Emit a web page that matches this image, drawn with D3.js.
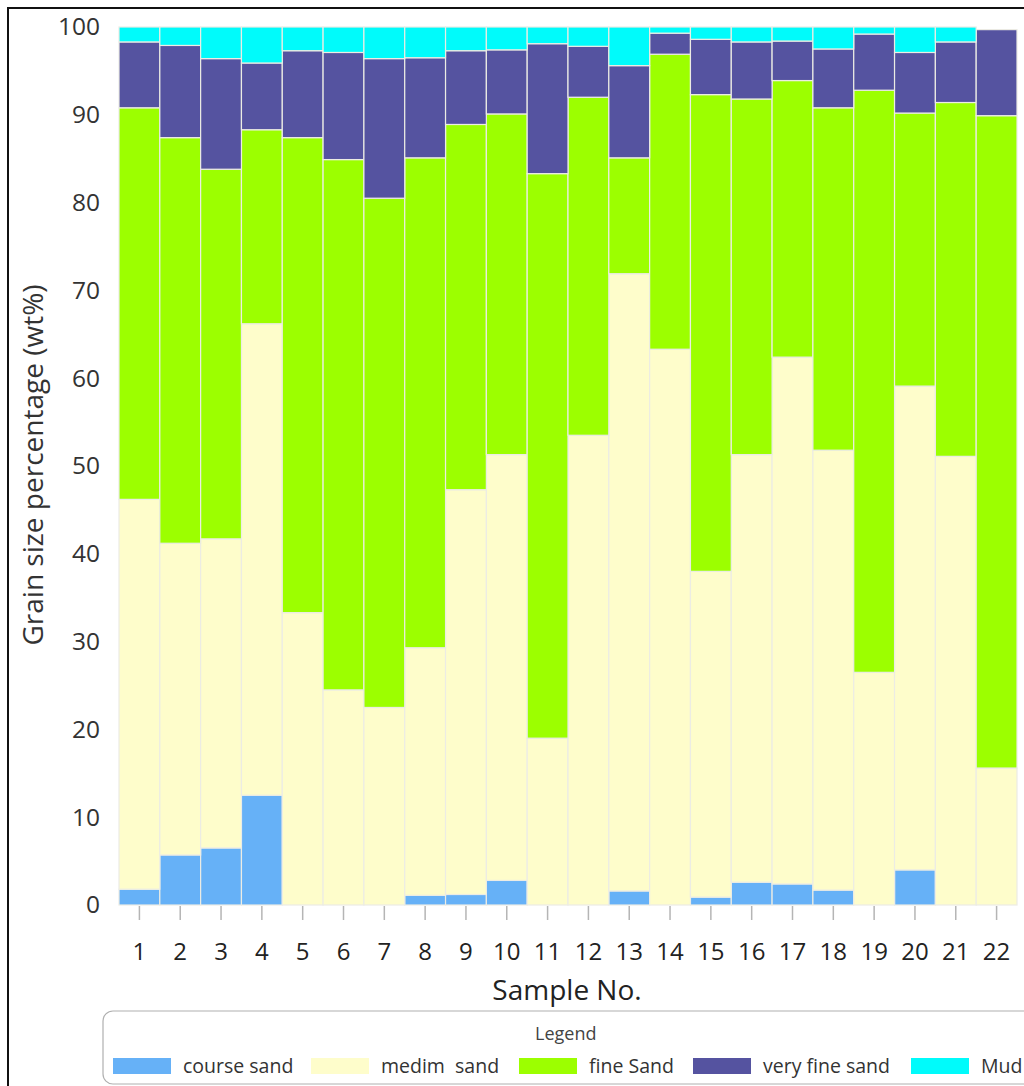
<!DOCTYPE html>
<html>
<head>
<meta charset="utf-8">
<script src="https://cdn.jsdelivr.net/npm/d3@7"></script>
<style>
  html, body { margin: 0; padding: 0; background: #fff; }
  svg { display: block; }
</style>
</head>
<body>
<svg id="chart" width="1024" height="1086"></svg>
<script>
// ---- data ----
const samples = ["1","2","3","4","5","6","7","8","9","10","11","12","13","14","15","16","17","18","19","20","21","22"];
const seriesNames = ["course sand", "medim  sand", "fine Sand", "very fine sand", "Mud"];
const courseSand   = [1.8, 5.7, 6.5, 12.5, 0, 0, 0, 1.1, 1.2, 2.8, 0, 0, 1.6, 0, 0.9, 2.6, 2.4, 1.7, 0, 4.0, 0, 0];
const mediumSand   = [44.4, 35.5, 35.2, 53.7, 33.3, 24.5, 22.5, 28.2, 46.1, 48.5, 19.0, 53.5, 70.3, 63.3, 37.1, 48.7, 60.0, 50.1, 26.5, 55.1, 51.1, 15.6];
const fineSand     = [44.6, 46.2, 42.1, 22.1, 54.1, 60.4, 58.0, 55.8, 41.6, 38.8, 64.3, 38.5, 13.2, 33.6, 54.3, 40.5, 31.5, 39.0, 66.3, 31.1, 40.3, 74.3];
const veryFineSand = [7.5, 10.5, 12.6, 7.6, 9.9, 12.2, 15.9, 11.4, 8.4, 7.3, 14.8, 5.8, 10.5, 2.4, 6.3, 6.5, 4.5, 6.7, 6.4, 6.9, 6.9, 9.8];
const mud          = [1.7, 2.1, 3.6, 4.1, 2.7, 2.9, 3.6, 3.5, 2.7, 2.6, 1.9, 2.2, 4.4, 0.7, 1.4, 1.7, 1.6, 2.5, 0.8, 2.9, 1.7, 0];
const yTicks = [0, 10, 20, 30, 40, 50, 60, 70, 80, 90, 100];
const colors = ["#66b1f7", "#fefdcb", "#9cff00", "#5553a0", "#00fbfb"];

// ---- layout ----
const svg = d3.select("#chart");
const FONT = "'Open Sans', 'Noto Sans', sans-serif";

// outer frame
svg.append("rect").attr("x", 8).attr("y", 8).attr("width", 1100).attr("height", 1100)
  .attr("fill", "none").attr("stroke", "#111").attr("stroke-width", 2);

const x = d3.scaleBand().domain(samples).range([119, 1017]).padding(0);
const y = d3.scaleLinear().domain([0, 100]).range([905, 27]);

const table = samples.map((s, i) => ({
  sample: s,
  "course sand": courseSand[i],
  "medim  sand": mediumSand[i],
  "fine Sand": fineSand[i],
  "very fine sand": veryFineSand[i],
  "Mud": mud[i]
}));
const stacked = d3.stack().keys(seriesNames)(table);

svg.append("g").selectAll("g").data(stacked).join("g")
  .attr("fill", (d, i) => colors[i])
  .selectAll("rect").data(d => d.filter(p => p[1] - p[0] > 0)).join("rect")
  .attr("x", d => x(d.data.sample))
  .attr("width", x.bandwidth())
  .attr("y", d => y(d[1]))
  .attr("height", d => y(d[0]) - y(d[1]))
  .attr("stroke", "#ecece4")
  .attr("stroke-width", 1.2);

// y axis labels
const yAxis = svg.append("g").attr("transform", "translate(119,0)")
  .call(d3.axisLeft(y).tickValues(yTicks).tickSize(0).tickPadding(19));
yAxis.select(".domain").remove();
yAxis.selectAll("text").attr("font-family", FONT).attr("font-size", 24.5).attr("fill", "#333");

// x axis
const xAxis = svg.append("g").attr("transform", "translate(0,906)")
  .call(d3.axisBottom(x).tickSize(14).tickPadding(23));
xAxis.select(".domain").remove();
xAxis.selectAll("line").attr("stroke", "#b5b5b5").attr("stroke-width", 1.5);
xAxis.selectAll("text").attr("font-family", FONT).attr("font-size", 24).attr("fill", "#222");

// axis titles
svg.append("text").attr("x", 567).attr("y", 1000).attr("text-anchor", "middle")
  .attr("font-family", FONT).attr("font-size", 28).attr("fill", "#222").text("Sample No.");
svg.append("text").attr("transform", "translate(43,465) rotate(-90)").attr("text-anchor", "middle")
  .attr("font-family", FONT).attr("font-size", 28).attr("fill", "#333").text("Grain size percentage (wt%)");

// legend
svg.append("rect").attr("x", 103).attr("y", 1011).attr("width", 960).attr("height", 73).attr("rx", 10)
  .attr("fill", "#fff").attr("stroke", "#b0b0b0").attr("stroke-width", 1.2);
svg.append("text").attr("x", 535).attr("y", 1040).attr("font-family", FONT).attr("font-size", 18)
  .attr("fill", "#444").text("Legend");
const legendX = [113, 311, 519, 693, 911];
const lg = svg.append("g").selectAll("g").data(seriesNames).join("g")
  .attr("transform", (d, i) => `translate(${legendX[i]},1058)`);
lg.append("rect").attr("width", 58).attr("height", 16).attr("fill", (d, i) => colors[i]);
lg.append("text").attr("x", 70).attr("y", 15).attr("font-family", FONT).attr("font-size", 19.5)
  .attr("fill", "#333").style("white-space", "pre").text(d => d);
</script>
</body>
</html>
